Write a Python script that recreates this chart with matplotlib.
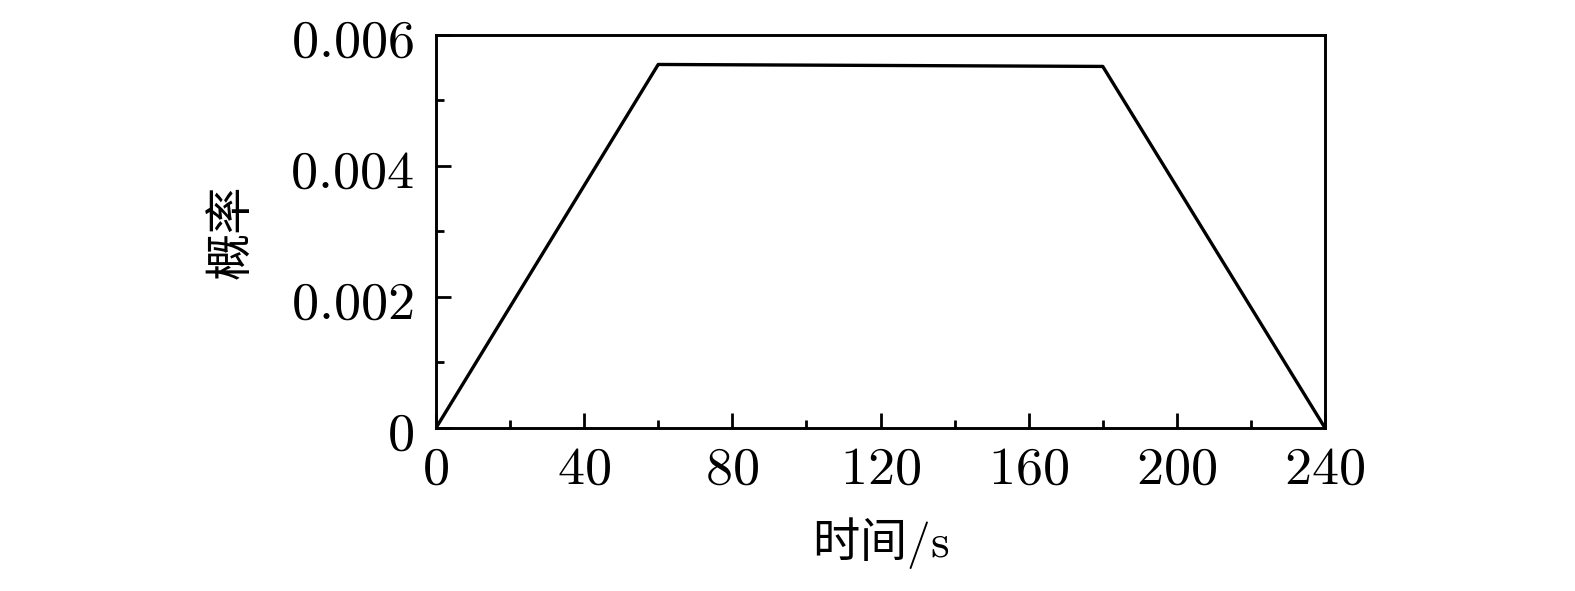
import matplotlib
matplotlib.use("Agg")
import matplotlib.pyplot as plt
from matplotlib.ticker import MultipleLocator

# 数据
time_s = [0, 60, 180, 240]
prob = [0, 0.00555, 0.00552, 0]

x_ticks = [0, 40, 80, 120, 160, 200, 240]
y_ticks = [0, 0.002, 0.004, 0.006]
y_tick_labels = ["0", "0.002", "0.004", "0.006"]

plt.rcParams['font.family'] = ['Noto Sans CJK SC', 'DejaVu Sans']
plt.rcParams['mathtext.fontset'] = 'cm'

fig = plt.figure(figsize=(15.75, 5.91), dpi=100)
ax = fig.add_axes([0.2768, 0.2758, 0.5645, 0.665])

ax.plot(time_s, prob, color='black', linewidth=2.4)

ax.set_xlim(0, 240)
ax.set_ylim(0, 0.006)
ax.set_xticks(x_ticks)
ax.set_xticklabels([r'$\mathrm{%d}$' % t for t in x_ticks])
ax.set_yticks(y_ticks)
ax.set_yticklabels([r'$\mathrm{%s}$' % s for s in y_tick_labels])
ax.xaxis.set_minor_locator(MultipleLocator(20))
ax.yaxis.set_minor_locator(MultipleLocator(0.001))

ax.tick_params(which='both', direction='in', top=False, right=False,
               width=2, labelsize=39, colors='black')
ax.tick_params(which='major', length=11)
ax.tick_params(axis='y', which='major', pad=16)
ax.tick_params(axis='x', which='major', pad=9)
ax.tick_params(which='minor', length=6)
for s in ax.spines.values():
    s.set_linewidth(2.1)

ax.set_xlabel(r'时间$/\mathrm{s}$', fontsize=34, labelpad=14)
ax.set_ylabel('概率', fontsize=34, labelpad=24)

fig.savefig('out.png', dpi=100)
